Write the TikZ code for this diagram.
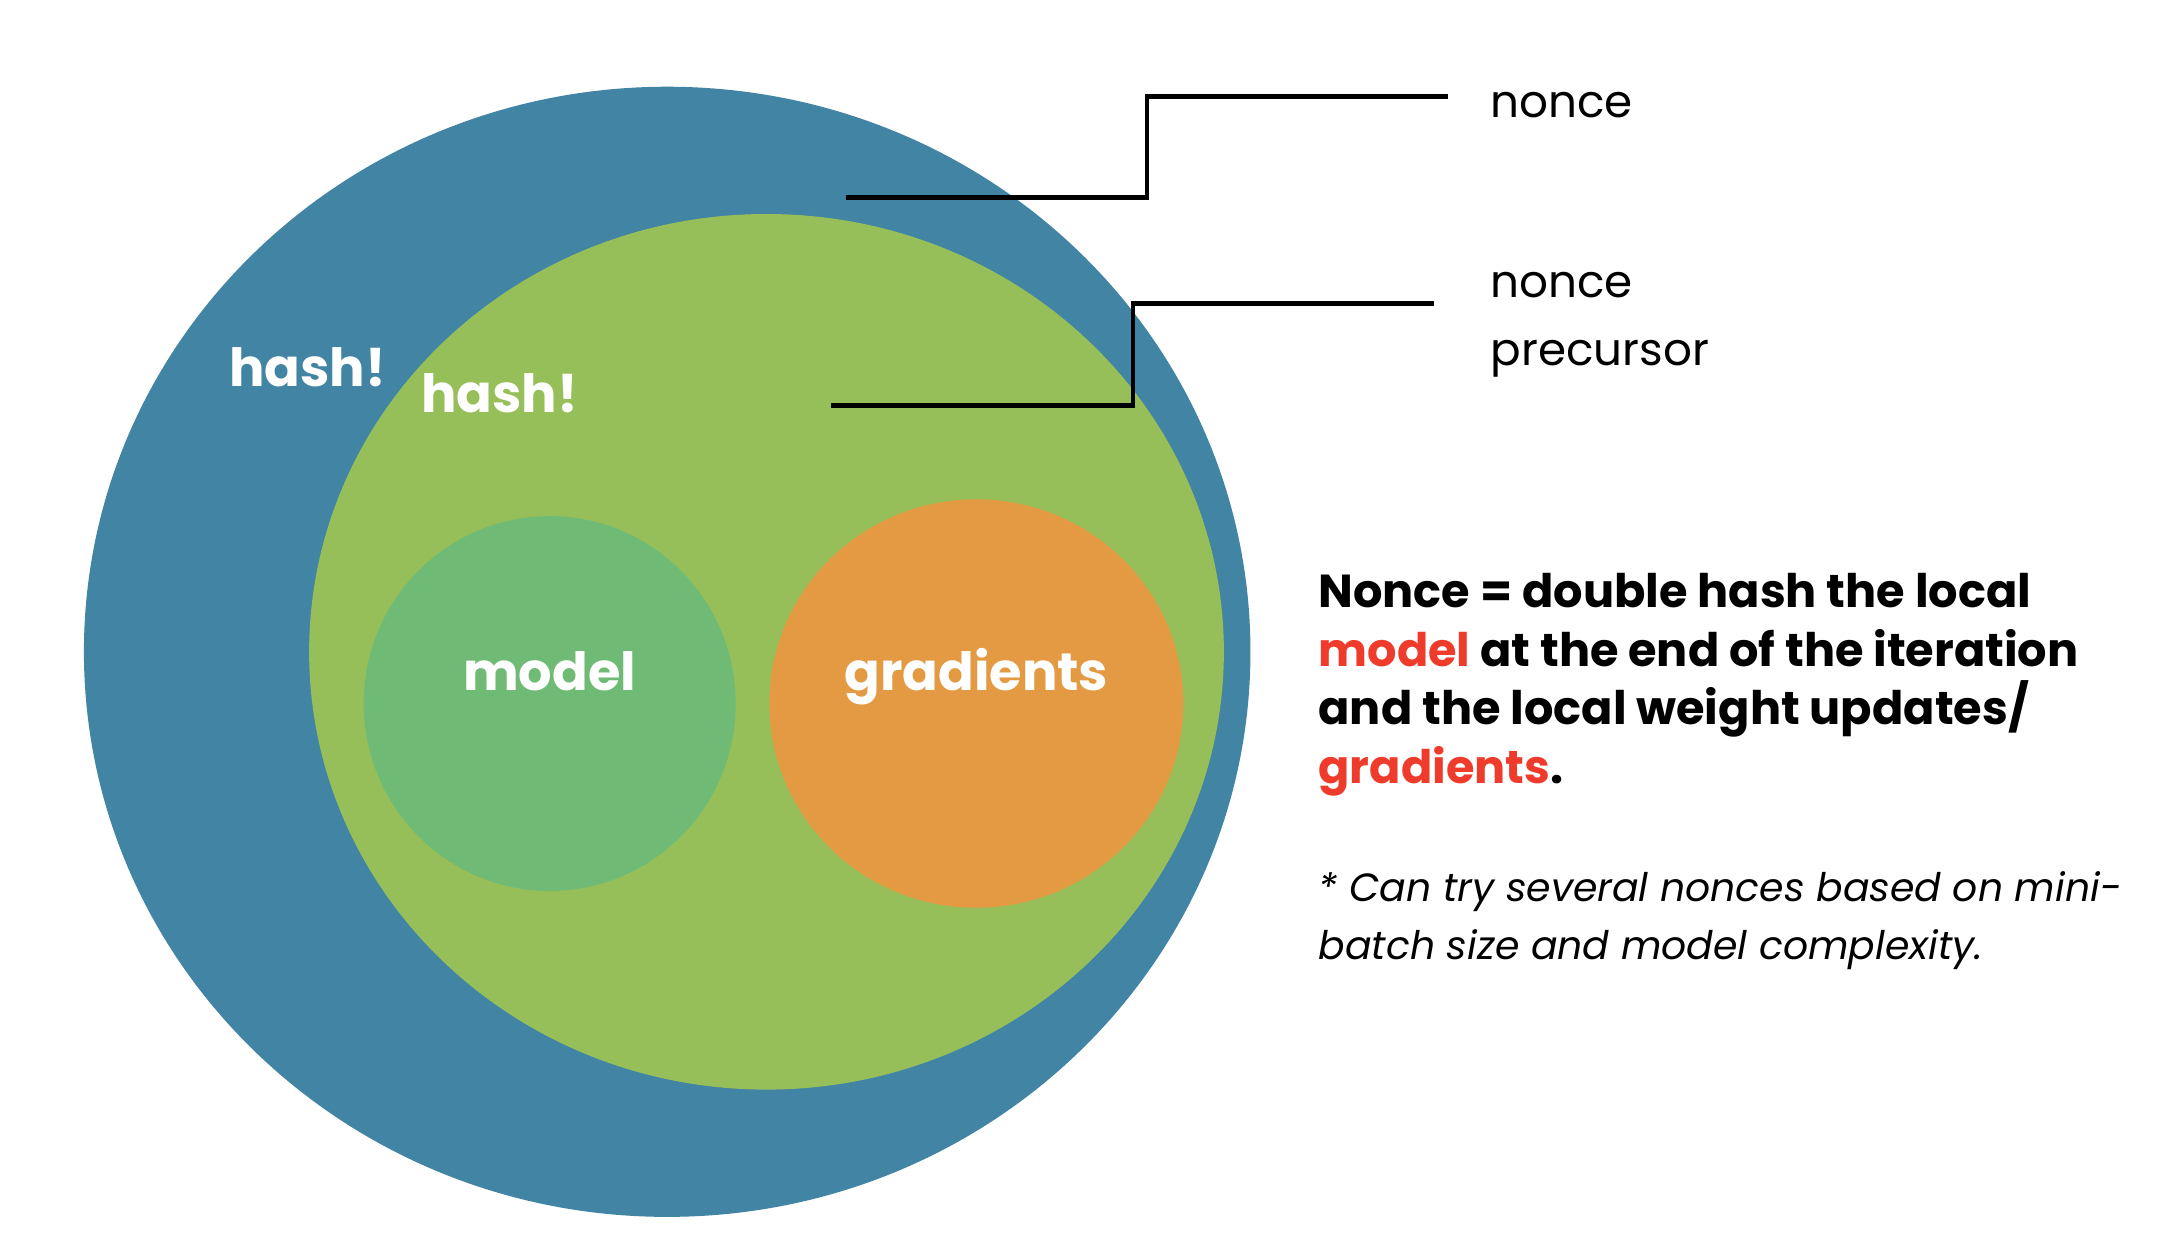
\documentclass[tikz,border=0pt]{standalone}
\usepackage{fontspec}
\setmainfont{Poppins}
\usetikzlibrary{positioning}
\definecolor{outerblue}{RGB}{65,132,164}
\definecolor{innergreen}{RGB}{151,191,89}
\definecolor{modelgreen}{RGB}{111,187,118}
\definecolor{gradorange}{RGB}{227,154,67}
\definecolor{accent}{RGB}{238,59,43}
\tikzset{
  lbl/.style={font=\bfseries\fontsize{10.7}{13}\selectfont,text=white,inner sep=0pt,anchor=base},
  tag/.style={font=\fontsize{9.2}{13.7}\selectfont,inner sep=0pt,anchor=base west,align=left},
  note/.style={font=\bfseries\fontsize{9.4}{11.95}\selectfont,inner sep=0pt,align=left},
  aside/.style={font=\itshape\fontsize{8}{11.95}\selectfont,inner sep=0pt,align=left},
  leader/.style={line width=0.95pt}
}
\begin{document}
\begin{tikzpicture}[x=0.01cm,y=-0.01cm]
\useasboundingbox (0,0) rectangle (1560,891);
% nested sets
\fill[outerblue] (477,466) ellipse [x radius=417,y radius=404];
\fill[innergreen] (548,466) ellipse [x radius=327,y radius=313];
\fill[modelgreen] (393,503) ellipse [x radius=133,y radius=134];
\fill[gradorange] (698,503) ellipse [x radius=148,y radius=146];
\node[lbl] (hashOuter) at (220,276) {hash!};
\node[lbl] (hashInner) at (357,295) {hash!};
\node[lbl] (modelLbl) at (393,494) {model};
\node[lbl] (gradLbl) at (698,494) {gradients};
% labels and leaders
\node[tag] (nonceLbl) at (1065,84) {nonce};
\node[tag] (precLbl) at (1065,261) {nonce\\precursor};
\coordinate (nonceTip) at (605,141);
\coordinate (nonceEnd) at (1035,69);
\coordinate (precTip) at (594,290);
\coordinate (precEnd) at (1025,217);
\draw[leader] (nonceTip) -| (820,69) -- (nonceEnd);
\draw[leader] (precTip) -| (810,217) -- (precEnd);
% explanation
\node[note,anchor=north west] (noteMain) at (942,409) {Nonce = double hash the local\\
  \textcolor{accent}{model} at the end of the iteration\\
  and the local weight updates/\\
  \textcolor{accent}{gradients}.};
\node[aside,anchor=north west] (noteAside) at ([yshift=-0.52cm]noteMain.south west) {* Can try several nonces based on mini-\\
  batch size and model complexity.};
\end{tikzpicture}
\end{document}
